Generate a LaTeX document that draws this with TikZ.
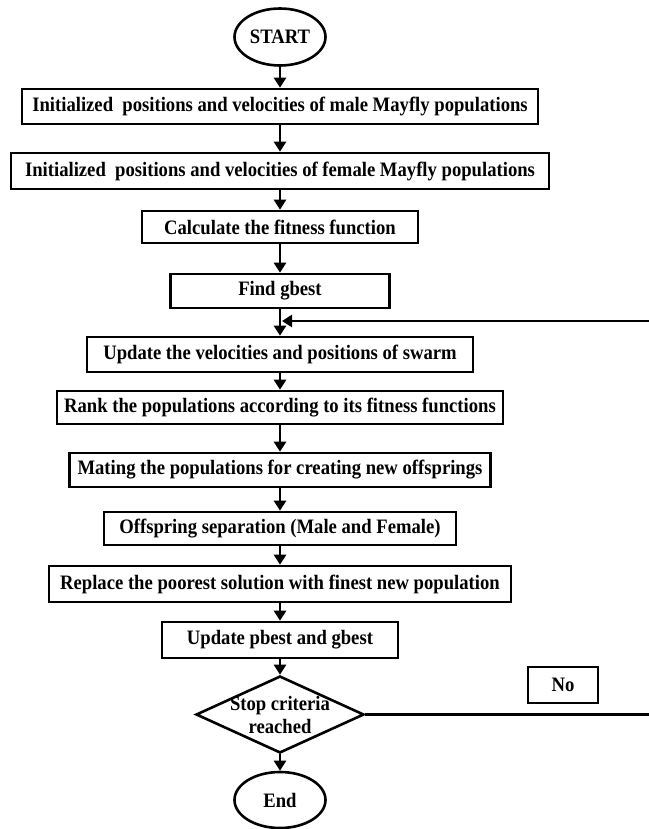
\documentclass[tikz,border=0pt]{standalone}
\usepackage{fontspec}
\setmainfont{Liberation Serif}[FakeStretch=0.91]
\usetikzlibrary{shapes.geometric}
\usetikzlibrary{arrows.meta}
\tikzset{every picture/.style={line width=2.6pt,x=1pt,y=-1pt},
  procbox/.style={draw,rectangle,inner sep=0pt,minimum height=34pt,font=\bfseries\fontsize{20.5}{23}\selectfont},
  termnode/.style={draw,ellipse,inner sep=0pt,minimum width=91pt,minimum height=57pt,font=\bfseries\fontsize{20.5}{23}\selectfont},
  decnode/.style={draw,diamond,inner sep=0pt,minimum width=168pt,minimum height=77pt},
  plaintext/.style={inner sep=0pt,align=center,font=\bfseries\fontsize{20.5}{23}\selectfont},
  flowarrow/.style={-{Triangle[length=10pt,width=12pt]}}}

\begin{document}
\begin{tikzpicture} %[x=1pt,y=-1pt] pixel grid
\useasboundingbox (0,0) rectangle (648,829);
\node[termnode] (start) at (280,37) {START};
\node[procbox, minimum width=516pt, minimum height=35pt] (initmale) at (280,106.5) {Initialized\ \ positions and velocities of male Mayfly populations};
\node[procbox, minimum width=538pt, minimum height=36pt] (initfemale) at (280,171) {Initialized\ \ positions and velocities of female Mayfly populations};
\node[procbox, minimum width=276pt, minimum height=32pt] (fitness) at (280,227) {Calculate the fitness function};
\node[procbox, minimum width=219pt] (findbest) at (280,291) {Find gbest};
\coordinate (merge) at (282,321);
\node[procbox, minimum width=386pt, minimum height=35pt] (velocity) at (280,354.5) {Update the velocities and positions of swarm};
\node[procbox, minimum width=446pt, minimum height=33pt] (rank) at (280,407.5) {Rank the populations according to its fitness functions};
\node[procbox, minimum width=421pt] (mating) at (280,470) {Mating the populations for creating new offsprings};
\node[procbox, minimum width=352pt, minimum height=33pt] (separation) at (280,528.5) {Offspring separation (Male and Female)};
\node[procbox, minimum width=462pt, minimum height=36pt] (replace) at (280,584) {Replace the poorest solution with finest new population};
\node[procbox, minimum width=236pt, minimum height=36pt] (pbest) at (280,640) {Update pbest and gbest};
\node[decnode] (stop) at (280,714.5) {};
\node[plaintext] (stoptext) at (280,714.5) {Stop criteria\\reached};
\node[procbox, minimum width=70pt, minimum height=36pt] (no) at (563,685) {No};
\node[termnode, minimum height=56pt] (finish) at (280,800) {End};
\coordinate (loopright) at (653,321);

\draw[flowarrow] (start) -- (initmale);
\draw[flowarrow] (initmale) -- (initfemale);
\draw[flowarrow] (initfemale) -- (fitness);
\draw[flowarrow] (fitness) -- (findbest);
\draw[flowarrow] (findbest) -- (velocity);
\draw[flowarrow] (velocity) -- (rank);
\draw[flowarrow] (rank) -- (mating);
\draw[flowarrow] (mating) -- (separation);
\draw[flowarrow] (separation) -- (replace);
\draw[flowarrow] (replace) -- (pbest);
\draw[flowarrow] (pbest) -- (stop);
\draw[flowarrow] (stop) -- (finish);
\draw[flowarrow] (stop.east) -| (loopright) -- (merge);
\end{tikzpicture}
\end{document}
